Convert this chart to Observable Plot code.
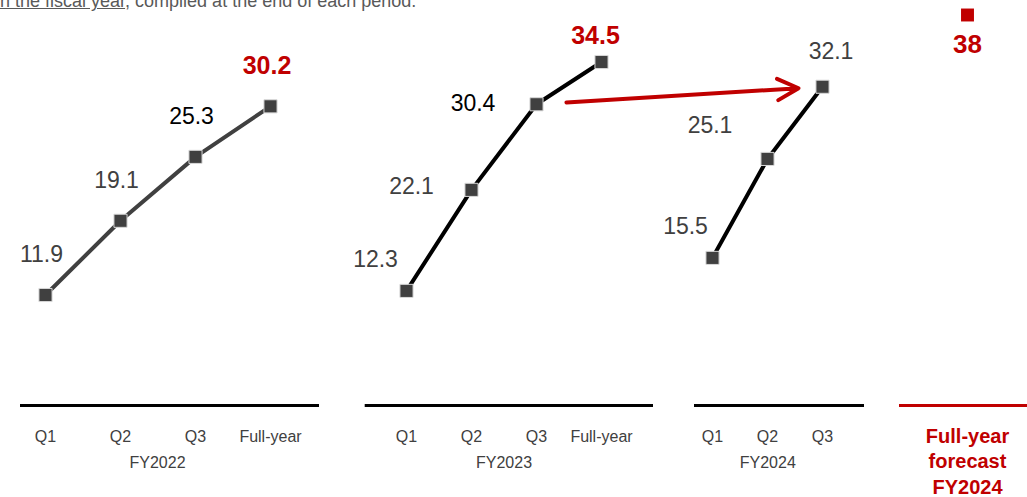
<!DOCTYPE html>
<html><head><meta charset="utf-8">
<script src="https://cdn.jsdelivr.net/npm/d3@7"></script>
<script src="https://cdn.jsdelivr.net/npm/@observablehq/plot@0.6"></script>
<style>
html,body{margin:0;padding:0;background:#fff;}
#chart{position:relative;width:1027px;height:497px;overflow:hidden;font-family:"Liberation Sans",Arial,sans-serif;background:#fff;}
#chart > svg.panel{position:absolute;top:0;}
#note{position:absolute;left:0;top:-7.7px;font-size:18px;line-height:18px;color:#595959;white-space:nowrap;}
#note u{text-decoration-color:#595959;}
</style></head><body>
<div id="chart"><div id="note"><u>n the fiscal year</u>, compiled at the end of each period.</div></div>
<script>
// ---- data ----
const periodsFull = ["Q1", "Q2", "Q3", "Full-year"];
const periodsFY2024 = ["Q1", "Q2", "Q3"];
const valuesFY2022 = [11.9, 19.1, 25.3, 30.2];
const valuesFY2023 = [12.3, 22.1, 30.4, 34.5];
const valuesFY2024 = [15.5, 25.1, 32.1];
const forecastValues = [38];
const forecastLabelLines = ["Full-year", "forecast", "FY2024"];
const yearLabels = ["FY2022", "FY2023", "FY2024"];
const arrowEnds = ["FY2023 Q3", "FY2024 Q3"];

// ---- styles ----
const FONT = '"Liberation Sans", Arial, sans-serif';
const GRAY = "#404040", RED = "#c00000";
const Y = {domain: [0, 40], range: [417.2, 4.8], axis: null};
const STYLE = {background: "transparent", overflow: "visible", fontFamily: FONT};
const chart = document.getElementById("chart");
function place(svg, left) { svg.classList.add("panel"); svg.style.left = left + "px"; chart.appendChild(svg); }

function panel({left, width, ml, mr, periods, values, year, lineColor, baseL, baseR, labels}) {
  const data = periods.map((p, i) => ({period: p, value: values[i]}));
  const marks = [
    Plot.frame({anchor: "bottom", stroke: "#000", strokeWidth: 3, insetLeft: -baseL, insetRight: -baseR}),
    Plot.axisX({tickSize: 0, tickPadding: 25, fontSize: 16, color: GRAY, label: null}),
    Plot.text([year], {frameAnchor: "bottom", dy: 62, fontSize: 16, fill: GRAY}),
    Plot.line(data, {x: "period", y: "value", stroke: lineColor, strokeWidth: 4}),
    Plot.dot(data, {x: "period", y: "value", symbol: "square", r: 7.4, fill: GRAY, stroke: "#d9d9d9", strokeWidth: 1}),
    ...labels.map((s, k) => Plot.text(data, {
      filter: (d, i) => i === k, x: "period", y: "value", text: d => String(d.value),
      dx: s.dx, dy: s.dy, fontSize: s.red ? 25 : 23, fontWeight: s.red ? "bold" : "normal",
      fill: s.red ? RED : (s.dark ? "#000" : GRAY)
    }))
  ];
  const svg = Plot.plot({
    width, height: 497, marginLeft: ml, marginRight: mr, marginTop: 0, marginBottom: 92,
    style: STYLE,
    x: {type: "point", domain: periods, padding: 0},
    y: Y,
    marks
  });
  place(svg, left);
}

panel({left: 0, width: 340, ml: 44, mr: 70, periods: periodsFull, values: valuesFY2022, year: yearLabels[0],
  lineColor: GRAY, baseL: 23, baseR: 47,
  labels: [{dx: -4, dy: -40}, {dx: -4, dy: -40}, {dx: -4, dy: -40, dark: true}, {dx: -3.5, dy: -40.5, red: true}]});

panel({left: 340, width: 340, ml: 66, mr: 79, periods: periodsFull, values: valuesFY2023, year: yearLabels[1],
  lineColor: "#000", baseL: 40.3, baseR: 50,
  labels: [{dx: -31, dy: -31.5}, {dx: -60, dy: -3.7}, {dx: -63.5, dy: -1, dark: true}, {dx: -6, dy: -26, red: true}]});

panel({left: 680, width: 200, ml: 32, mr: 57.5, periods: periodsFY2024, values: valuesFY2024, year: yearLabels[2],
  lineColor: "#000", baseL: 17, baseR: 39.5,
  labels: [{dx: -27, dy: -31}, {dx: -57.5, dy: -33}, {dx: 8.5, dy: -35}]});

// forecast panel
{
  const data = forecastValues.map(v => ({period: forecastLabelLines.join(" "), value: v}));
  const svg = Plot.plot({
    width: 147, height: 497, marginLeft: 87, marginRight: 60, marginTop: 0, marginBottom: 92,
    style: STYLE,
    x: {type: "point", domain: data.map(d => d.period), padding: 0, axis: null},
    y: {domain: [0, 40], range: [417.2, -6.7], axis: null},
    marks: [
      Plot.frame({anchor: "bottom", stroke: RED, strokeWidth: 3, insetLeft: -67, insetRight: -60}),
      Plot.text([forecastLabelLines.join("\n")], {frameAnchor: "bottom", lineAnchor: "top", dy: 19, fontSize: 20,
        fontWeight: "bold", lineHeight: 1.275, fill: RED}),
      Plot.dot(data, {x: "period", y: "value", symbol: "square", r: 7.3, fill: RED}),
      Plot.text(data, {x: "period", y: "value", text: d => String(d.value), dy: 29.3, fontSize: 26, fontWeight: "bold", fill: RED})
    ]
  });
  place(svg, 880);
}

// arrow overlay: FY2023 Q3 -> FY2024 Q3
{
  const arrow = [{from: arrowEnds[0], to: arrowEnds[1], v1: valuesFY2023[2], v2: valuesFY2024[2]}];
  const svg = Plot.plot({
    width: 286.5, height: 497, marginLeft: 0, marginRight: 0, marginTop: 0, marginBottom: 92,
    style: STYLE,
    x: {type: "point", domain: arrowEnds, padding: 0, axis: null},
    y: Y,
    marks: [
      Plot.arrow(arrow, {x1: "from", y1: "v1", x2: "to", y2: "v2", stroke: RED, strokeWidth: 4,
        headLength: 8.8, headAngle: 54, insetStart: 30, insetEnd: 24})
    ]
  });
  place(svg, 536);
}
</script>
</body></html>
